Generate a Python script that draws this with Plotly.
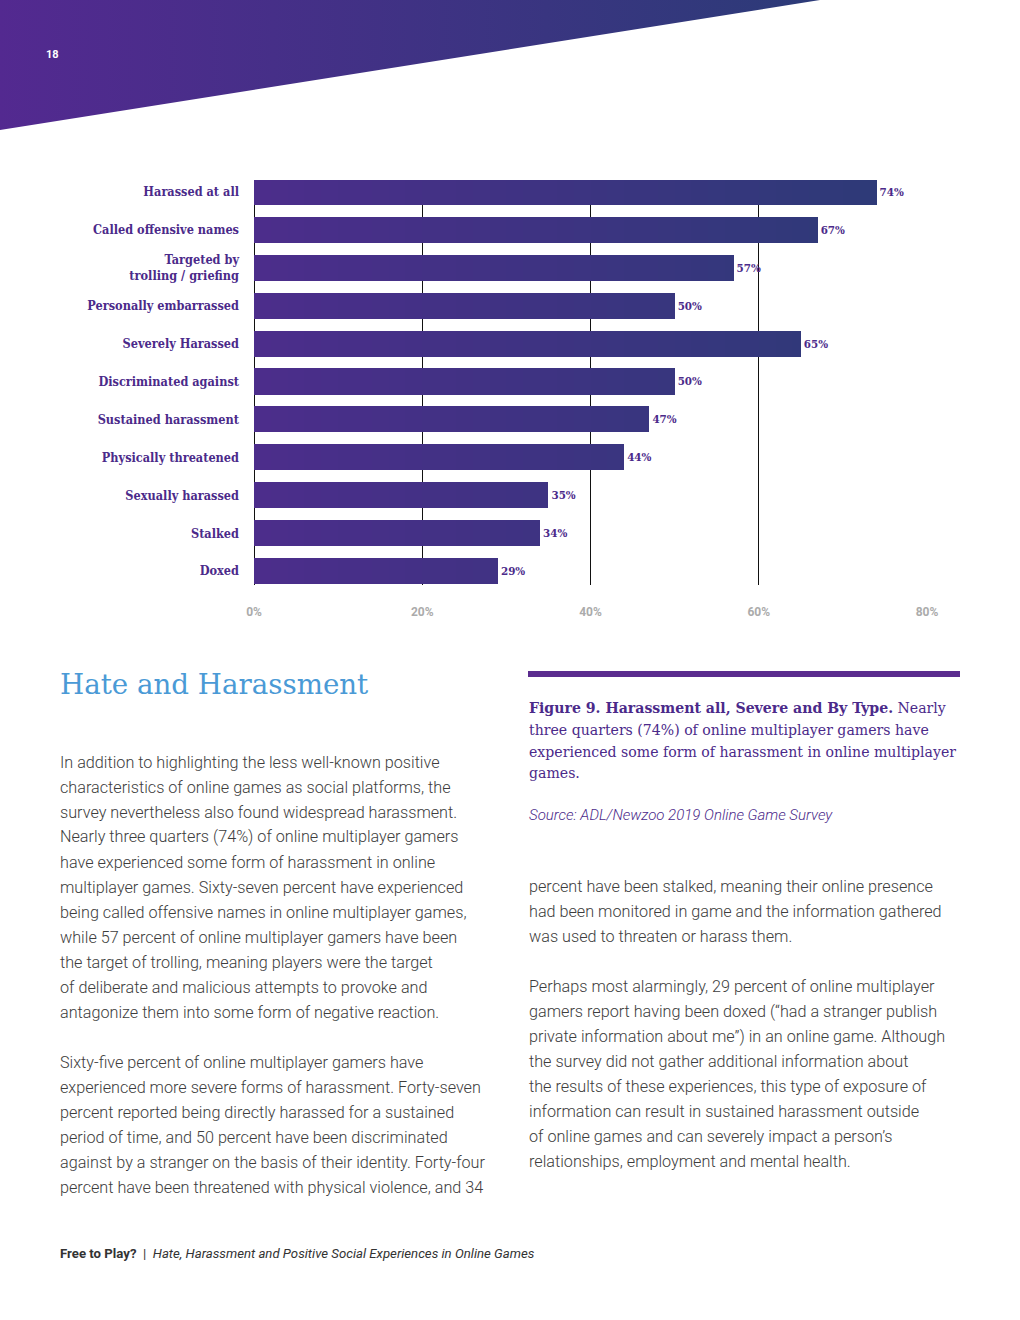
import plotly.graph_objects as go

# ---------------- data ----------------
categories = [
    "Harassed at all",
    "Called offensive names",
    "Targeted by<br>trolling / griefing",
    "Personally embarrassed",
    "Severely Harassed",
    "Discriminated against",
    "Sustained harassment",
    "Physically threatened",
    "Sexually harassed",
    "Stalked",
    "Doxed",
]
values = [74, 67, 57, 50, 65, 50, 47, 44, 35, 34, 29]
tick_vals = [0, 20, 40, 60, 80]
tick_text = ["0%", "20%", "40%", "60%", "80%"]

left_col = [
    "In addition to highlighting the less well-known positive",
    "characteristics of online games as social platforms, the",
    "survey nevertheless also found widespread harassment.",
    "Nearly three quarters (74%) of online multiplayer gamers",
    "have experienced some form of harassment in online",
    "multiplayer games. Sixty-seven percent have experienced",
    "being called offensive names in online multiplayer games,",
    "while 57 percent of online multiplayer gamers have been",
    "the target of trolling, meaning players were the target",
    "of deliberate and malicious attempts to provoke and",
    "antagonize them into some form of negative reaction.",
    "",
    "Sixty-five percent of online multiplayer gamers have",
    "experienced more severe forms of harassment. Forty-seven",
    "percent reported being directly harassed for a sustained",
    "period of time, and 50 percent have been discriminated",
    "against by a stranger on the basis of their identity. Forty-four",
    "percent have been threatened with physical violence, and 34",
]
right_col = [
    "percent have been stalked, meaning their online presence",
    "had been monitored in game and the information gathered",
    "was used to threaten or harass them.",
    "",
    "Perhaps most alarmingly, 29 percent of online multiplayer",
    "gamers report having been doxed (\u201chad a stranger publish",
    "private information about me\u201d) in an online game. Although",
    "the survey did not gather additional information about",
    "the results of these experiences, this type of exposure of",
    "information can result in sustained harassment outside",
    "of online games and can severely impact a person\u2019s",
    "relationships, employment and mental health.",
]
caption_lines = [
    "<b>Figure 9. Harassment all, Severe and By Type.</b> Nearly",
    "three quarters (74%) of online multiplayer gamers have",
    "experienced some form of harassment in online multiplayer",
    "games.",
]
source_text = "<i>Source: ADL/Newzoo 2019 Online Game Survey</i>"

# ---------------- styling helpers ----------------
W, H = 1020, 1320
PURPLE = "#4b2a8a"


def px(x):
    return x / W


def py(y):
    return 1 - y / H


def hex2rgb(h):
    h = h.lstrip("#")
    return tuple(int(h[i:i + 2], 16) for i in (0, 2, 4))


def mix(c1, c2, f):
    a, b = hex2rgb(c1), hex2rgb(c2)
    return "rgb(%d,%d,%d)" % tuple(round(a[i] + (b[i] - a[i]) * f) for i in range(3))


GRAD_L, GRAD_R = "#4c2d8b", "#2b3b76"

fig = go.Figure()

# header gradient triangle (decoration, page-pixel axes)
fig.add_trace(go.Scatter(
    x=[0, 820, 0, 0], y=[0, 0, 130, 0], mode="lines", fill="toself",
    line=dict(width=0), fillcolor="#3d3484",
    fillgradient=dict(type="horizontal", colorscale=[[0, "#532990"], [1, "#2c3b78"]]),
    xaxis="x2", yaxis="y2", hoverinfo="skip", showlegend=False,
))

# bars: full bar + stepped overlays to imitate the horizontal gradient
N = 40
xmax = tick_vals[-1]
for k in range(N, 0, -1):
    t = xmax * k / N
    col = mix(GRAD_L, GRAD_R, (k - 0.5) / N)
    seg = [min(v, t) for v in values]
    main = (k == N)
    fig.add_trace(go.Bar(
        x=seg, y=categories, orientation="h", width=0.69,
        marker=dict(color=col, line=dict(width=0)),
        text=[f"{v}%" for v in values] if main else None,
        textposition="outside" if main else "none",
        textfont=dict(family="DejaVu Serif Condensed, DejaVu Serif", size=11.5, color=PURPLE, weight="bold"),
        cliponaxis=False, hoverinfo="skip", showlegend=False,
    ))

fig.update_layout(
    width=W, height=H, margin=dict(l=0, r=0, t=0, b=0, autoexpand=False),
    paper_bgcolor="white", plot_bgcolor="rgba(0,0,0,0)",
    barmode="overlay", bargap=0,
    xaxis=dict(
        domain=[px(254), px(927)], range=[0, xmax], automargin=False,
        tickvals=tick_vals, ticktext=tick_text,
        showgrid=True, gridcolor="#111111", gridwidth=1,
        zeroline=True, zerolinecolor="#111111", zerolinewidth=1,
        showline=False, ticks="", ticklabelstandoff=18,
        tickfont=dict(family="Roboto", size=12, color="#ababab", weight="bold"),
        fixedrange=True,
    ),
    yaxis=dict(
        domain=[py(585), py(180)], type="category", automargin=False,
        categoryorder="array", categoryarray=categories,
        range=[10.37, -0.317], showgrid=False, zeroline=False, ticks="",
        ticklabelstandoff=14,
        tickfont=dict(family="DejaVu Serif Condensed, DejaVu Serif", size=12.6, color=PURPLE, weight="bold"),
        fixedrange=True,
    ),
    xaxis2=dict(domain=[0, 1], range=[0, W], visible=False, fixedrange=True, anchor="y2", automargin=False),
    yaxis2=dict(domain=[0, 1], range=[H, 0], visible=False, fixedrange=True, anchor="x2", automargin=False),
    showlegend=False,
)

ann = []


def add_text(x, y, text, size, color, family="Roboto", weight="normal", style="normal", anchor="left"):
    ann.append(dict(
        x=px(x), y=py(y), xref="paper", yref="paper", xanchor=anchor, yanchor="middle",
        text=text, showarrow=False, align="left",
        font=dict(family=family, size=size, color=color, weight=weight, style=style),
    ))


# page number
add_text(44, 55, "18", 11, "white", weight="bold")

# heading
add_text(58, 684, "Hate and Harassment", 27.7, "#4a9ad6", family="DejaVu Serif")

# body columns
for i, line in enumerate(left_col):
    if line:
        add_text(58, 762 + 25 * i, line, 16.2, "#3d3d3d", weight=300)
for i, line in enumerate(right_col):
    if line:
        add_text(527, 886 + 25 * i, line, 16.2, "#3d3d3d", weight=300)

# caption
cap_y = [708, 730, 752, 773]
for y, line in zip(cap_y, caption_lines):
    add_text(527, y, line, 14.1, PURPLE, family="DejaVu Serif")
add_text(527, 815, source_text, 15, PURPLE, weight=300)

# footer
add_text(58, 1253, "<b>Free to Play?</b>  |  <i>Hate, Harassment and Positive Social Experiences in Online Games</i>",
         13.2, "#333333")

fig.update_layout(annotations=ann)

fig.add_shape(type="rect", xref="paper", yref="paper",
              x0=px(528), x1=px(960), y0=py(677), y1=py(671),
              fillcolor="#5b2c8f", line=dict(width=0))

fig.write_html(
    "out.html",
    config={"displayModeBar": False, "staticPlot": True},
    post_script="document.body.style.margin='0px';document.body.style.overflow='hidden';",
)
